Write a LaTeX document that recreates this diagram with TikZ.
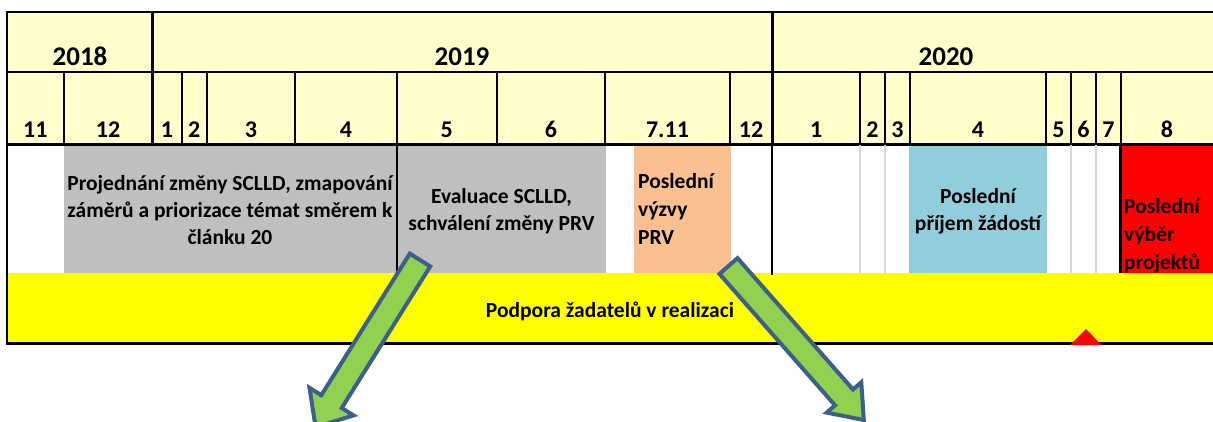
\documentclass[tikz,border=0pt]{standalone}
\usepackage{fontspec}
\setmainfont{Carlito}
\definecolor{hdr}{HTML}{FFFFCC}
\definecolor{grayb}{HTML}{BFBFBF}
\definecolor{orangeb}{HTML}{FAC090}
\definecolor{blueb}{HTML}{92CDDC}
\definecolor{yel}{HTML}{FFFF00}
\definecolor{grn}{HTML}{92D050}
\definecolor{arrowline}{HTML}{3D5F8C}
\definecolor{lgrid}{HTML}{D9D9D9}
\definecolor{redb}{HTML}{FF0000}
\newcommand\mlc[1]{\begin{tabular}[t]{@{}c@{}}#1\end{tabular}}
\newcommand\mll[1]{\begin{tabular}[t]{@{}l@{}}#1\end{tabular}}
\begin{document}
\begin{tikzpicture}[x=1pt,y=-1pt,
  gridline/.style={line width=2pt, black},
  thickline/.style={line width=3pt, black},
  lightline/.style={line width=1.3pt, lgrid},
  yearlbl/.style={font=\fontsize{27}{32}\selectfont\bfseries, anchor=base, inner sep=0pt},
  monlbl/.style={font=\fontsize{24}{29}\selectfont\bfseries, anchor=base, inner sep=0pt},
  bodytxt/.style={font=\fontsize{21.5}{27}\selectfont\bfseries, anchor=base, inner sep=0pt},
  bodytxtl/.style={font=\fontsize{21.5}{28}\selectfont\bfseries, anchor=base west, inner sep=0pt},
  bigarrow/.style={fill=grn, draw=arrowline, line width=4pt, line join=miter}]
\useasboundingbox (0,0) rectangle (1213,421);
% fills
\fill[white] (0,0) rectangle (1213,421);
\fill[hdr] (7,12) rectangle (1213,144);
\fill[grayb] (63.7,144) rectangle (396.7,273);
\fill[grayb] (396.7,144) rectangle (606,273);
\fill[orangeb] (634,144) rectangle (731,273);
\fill[blueb] (909,144) rectangle (1047,273);
\fill[redb] (1120.7,144) rectangle (1213,273);
\fill[yel] (7,273) rectangle (1213,343);
% grid
\draw[gridline] (7,12) -- (1213,12);
\draw[gridline] (7,72) -- (1213,72);
\draw[thickline] (7,144) -- (1213,144);
\draw[gridline] (7,11) -- (7,344.5);
\draw[thickline] (152.3,12) -- (152.3,144);
\draw[thickline] (772.3,12) -- (772.3,144);
\foreach \x in {63.7,182,206.7,295,396.7,496.7,605,730,860,885,910,1046,1071,1096,1120.7}
  \draw[gridline] (\x,72) -- (\x,144);
\foreach \x in {860,885,1071,1096}
  \draw[lightline] (\x,145) -- (\x,273);
\draw[gridline] (396.7,144) -- (396.7,273);
\draw[gridline] (772.3,144) -- (772.3,275);
\draw[thickline] (1120.7,144) -- (1120.7,273);
\draw[thickline] (7,343.3) -- (1213,343.3);
% year labels
\node[yearlbl] (y2018) at (80,65) {2018};
\node[yearlbl] (y2019) at (462,65) {2019};
\node[yearlbl] (y2020) at (946,65) {2020};
% month labels
\foreach \x/\t [count=\i] in {35.3/11,108/12,167/1,194.3/2,251/3,346/4,446.7/5,551/6,667.5/7.11,751/12,816.2/1,872.5/2,897.5/3,978/4,1058.5/5,1083.5/6,1108.5/7,1167/8}
  \node[monlbl] (m\i) at (\x,137) {\t};
% body texts
\node[bodytxt] (t1) at (230,190) {\mlc{Projednání změny SCLLD, zmapování\\záměrů a priorizace témat směrem k\\článku 20}};
\node[bodytxt] (t2) at (501.5,203) {\mlc{Evaluace SCLLD,\\schválení změny PRV}};
\node[bodytxtl] (t3) at (638,188) {\mll{Poslední\\výzvy\\PRV}};
\node[bodytxt] (t4) at (978,203) {\mlc{Poslední\\příjem žádostí}};
\node[bodytxtl] (t5) at (1124,213) {\mll{Poslední\\výběr\\projektů}};
\node[bodytxt] (t6) at (610,317) {Podpora žadatelů v realizaci};
% red triangle
\fill[redb] (1070,345) -- (1086,329) -- (1101.5,345) -- cycle;
% arrows
\draw[bigarrow] (430.2,266.4) -- (341.7,408.0) -- (353.5,415.4) -- (315.6,427.1) -- (309.5,387.8) -- (321.3,395.2) -- (409.8,253.6) -- cycle;
\draw[bigarrow] (737.5,258.1) -- (853.0,389.5) -- (861.3,382.2) -- (863.8,420.0) -- (826.7,412.6) -- (835.0,405.3) -- (719.5,273.9) -- cycle;
\end{tikzpicture}
\end{document}
